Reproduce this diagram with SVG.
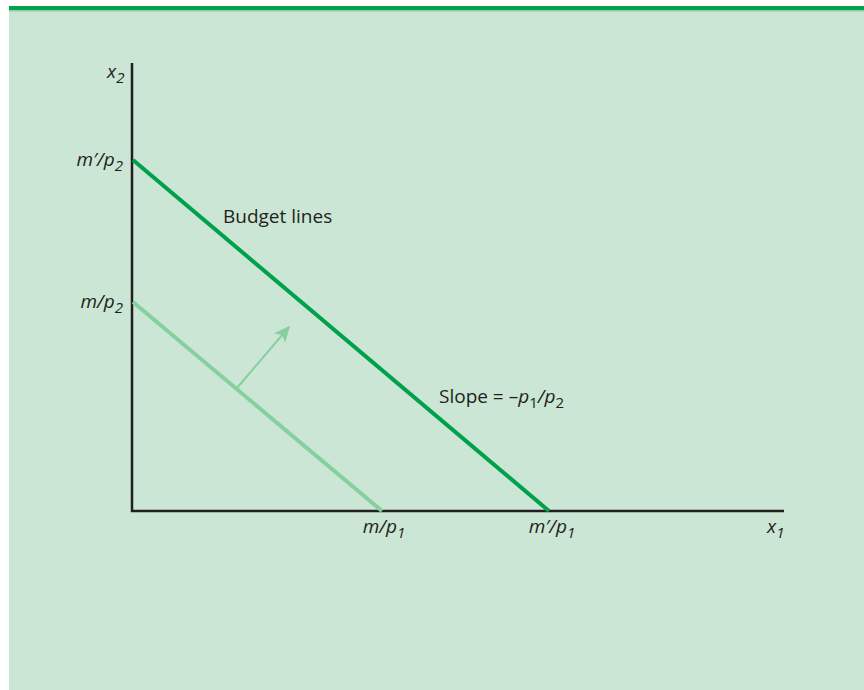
<svg xmlns="http://www.w3.org/2000/svg" width="864" height="690" viewBox="0 0 864 690">
<style>
.t{font-family:"Open Sans","Liberation Sans",sans-serif;font-size:19px;fill:#231f20}
.i{font-style:italic}
.s{font-size:15px}
</style>
<defs>
<marker id="ah" viewBox="0 0 10 10" refX="9" refY="5" markerWidth="8" markerHeight="8" orient="auto" markerUnits="strokeWidth">
<path d="M0,0.5 L10,5 L0,9.5 L2.5,5 z" fill="#86cf9f"/>
</marker>
</defs>
<rect x="0" y="0" width="864" height="690" fill="#ffffff"/>
<rect x="9" y="6" width="855" height="684" fill="#cbe6d5"/>
<rect x="9" y="6" width="855" height="4" fill="#00a14f"/>
<rect x="9" y="10" width="855" height="1.5" fill="#8fd0a6"/>
<g id="axes">
<path d="M132,63 V511 H784" fill="none" stroke="#231f20" stroke-width="2.5"/>
</g>
<g id="connectors">
<line id="inner" x1="133" y1="302" x2="382" y2="511" stroke="#86cf9f" stroke-width="4"/>
<line id="outer" x1="133" y1="160" x2="549" y2="511" stroke="#00a14b" stroke-width="4"/>
<line id="arrow" x1="237" y1="388" x2="289" y2="327" stroke="#86cf9f" stroke-width="2" marker-end="url(#ah)"/>
</g>
<g id="labels">
<text class="t i" x="107" y="78">x<tspan class="s" dy="5">2</tspan></text>
<text class="t i" x="123" y="166" text-anchor="end">m′/p<tspan class="s" dy="5">2</tspan></text>
<text class="t i" x="123" y="308" text-anchor="end">m/p<tspan class="s" dy="5">2</tspan></text>
<text class="t i" x="384" y="533" text-anchor="middle">m/p<tspan class="s" dy="5">1</tspan></text>
<text class="t i" x="552" y="533" text-anchor="middle">m′/p<tspan class="s" dy="5">1</tspan></text>
<text class="t i" x="767" y="533">x<tspan class="s" dy="5">1</tspan></text>
<text class="t" x="223" y="223">Budget lines</text>
<text class="t" x="439" y="403">Slope = –<tspan class="i">p</tspan><tspan class="s" dy="5">1</tspan><tspan dy="-5" class="i">/p</tspan><tspan class="s" dy="5">2</tspan></text>
</g>
</svg>
